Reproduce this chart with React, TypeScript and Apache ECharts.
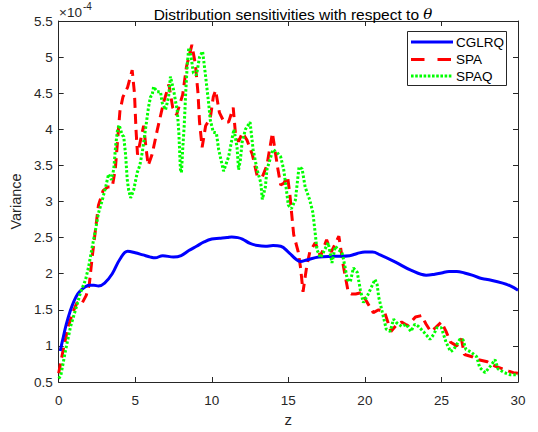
import React, { useEffect, useRef } from 'react';
import * as echarts from 'echarts';

const xTicks = [0, 5, 10, 15, 20, 25, 30];
const yTicks = [0.5, 1, 1.5, 2, 2.5, 3, 3.5, 4, 4.5, 5, 5.5];
const seriesNames = ['CGLRQ', 'SPA', 'SPAQ'];

// values in units of 1e-4
const cglrq: number[][] = [
  [0.1, 0.93], [0.3, 1.12], [0.5, 1.3], [0.75, 1.48], [1, 1.62], [1.25, 1.72], [1.5, 1.78], [1.75, 1.82],
  [2, 1.84], [2.3, 1.84], [2.6, 1.83], [3, 1.87], [3.5, 2.0], [4, 2.2], [4.5, 2.31], [5, 2.29],
  [5.5, 2.26], [6, 2.23], [6.3, 2.22], [6.8, 2.25], [7.5, 2.23], [8, 2.25], [8.5, 2.32], [9, 2.38],
  [9.5, 2.44], [10, 2.48], [10.5, 2.49], [11, 2.5], [11.3, 2.51], [11.7, 2.5], [12, 2.48], [12.5, 2.42],
  [13, 2.39], [13.5, 2.38], [14, 2.39], [14.5, 2.38], [15, 2.3], [15.5, 2.2], [15.8, 2.17], [16.2, 2.19],
  [17, 2.23], [18, 2.24], [19, 2.25], [19.5, 2.28], [20, 2.3], [20.5, 2.3], [21, 2.26], [22, 2.16],
  [23, 2.05], [24, 1.98], [24.5, 1.99], [25, 2.01], [25.5, 2.03], [26, 2.03], [26.5, 2.01], [27, 1.98],
  [27.5, 1.94], [28, 1.92], [29, 1.87], [29.5, 1.83], [30, 1.77],
];

const spa: number[][] = [
  [0, 0.62], [0.3, 0.95], [0.6, 1.25], [0.9, 1.45], [1.2, 1.6], [1.5, 1.58], [1.8, 1.7], [2.0, 1.85],
  [2.2, 2.25], [2.4, 2.6], [2.6, 2.95], [2.9, 3.15], [3.2, 3.2], [3.5, 3.2], [3.7, 3.45], [3.85, 3.85],
  [4.0, 4.25], [4.2, 4.45], [4.5, 4.58], [4.8, 4.82], [4.95, 4.5], [5.05, 4.0], [5.15, 3.65], [5.35, 3.85],
  [5.55, 4.05], [5.7, 3.75], [5.85, 3.5], [6.1, 3.65], [6.45, 4.0], [6.85, 4.37], [7.2, 4.62], [7.45, 4.3],
  [7.7, 4.2], [8.1, 4.48], [8.35, 4.87], [8.7, 5.17], [8.93, 4.9], [9.1, 4.5], [9.2, 4.1], [9.37, 3.75],
  [9.6, 4.05], [9.9, 4.15], [10.1, 4.45], [10.25, 4.54], [10.5, 4.23], [10.8, 4.1], [11.1, 4.1], [11.4, 4.3],
  [11.55, 3.93], [11.75, 3.83], [12.0, 3.95], [12.3, 3.85], [12.65, 3.65], [12.96, 3.36], [13.3, 3.34], [13.6, 3.5],
  [13.8, 3.75], [13.96, 3.95], [14.3, 3.47], [14.5, 3.23], [14.7, 3.25], [14.95, 3.35], [15.1, 3.1], [15.2, 2.87],
  [15.35, 2.54], [15.65, 2.3], [15.8, 2.08], [15.96, 1.75], [16.2, 2.1], [16.4, 2.3], [16.76, 2.43], [17.1, 2.24],
  [17.5, 2.47], [17.8, 2.3], [18.3, 2.52], [18.6, 2.1], [18.9, 1.76], [19.1, 1.72], [19.4, 1.72], [19.8, 1.74],
  [20.1, 1.62], [20.55, 1.46], [20.9, 1.5], [21.3, 1.46], [21.7, 1.2], [22.1, 1.3], [22.4, 1.33], [22.8, 1.28],
  [23.3, 1.4], [23.7, 1.42], [24.0, 1.3], [24.3, 1.2], [24.6, 1.25], [25.0, 1.33], [25.3, 1.2], [25.6, 1.05],
  [26.0, 1.0], [26.3, 1.1], [26.5, 0.88], [27.0, 0.85], [27.4, 0.81], [28.0, 0.78], [28.5, 0.72], [29.0, 0.68],
  [29.4, 0.65], [29.7, 0.63], [30.0, 0.62],
];

const spaq: number[][] = [
  [0, 0.55], [0.13, 0.58], [0.46, 0.95], [0.78, 1.27], [1.1, 1.5], [1.43, 1.74], [1.76, 1.92], [1.96, 2.1],
  [2.2, 2.38], [2.4, 2.6], [2.6, 2.84], [2.85, 3.02], [3.07, 3.2], [3.26, 3.38], [3.45, 3.3], [3.6, 3.45],
  [3.72, 3.77], [3.85, 4.0], [3.95, 4.06], [4.15, 3.92], [4.25, 3.9], [4.37, 3.65], [4.48, 3.3], [4.57, 3.16],
  [4.7, 3.05], [4.9, 3.16], [5.13, 3.4], [5.3, 3.5], [5.46, 3.68], [5.67, 4.0], [5.87, 4.31], [6.0, 4.45],
  [6.1, 4.47], [6.2, 4.59], [6.43, 4.52], [6.65, 4.52], [6.76, 4.37], [6.98, 4.27], [7.18, 4.45], [7.3, 4.73],
  [7.5, 4.55], [7.75, 4.25], [7.85, 3.95], [7.95, 3.45], [8.02, 3.4], [8.1, 3.72], [8.2, 4.05], [8.3, 4.52],
  [8.4, 4.9], [8.5, 5.13], [8.65, 5.0], [8.8, 4.78], [9.0, 4.75], [9.2, 5.0], [9.4, 5.08], [9.6, 4.73],
  [9.8, 4.35], [9.9, 4.13], [10.1, 3.96], [10.3, 3.95], [10.45, 3.72], [10.77, 3.42], [11.1, 3.62], [11.35, 3.9],
  [11.45, 4.0], [11.65, 3.75], [11.75, 3.44], [11.87, 3.58], [11.98, 3.82], [12.2, 4.0], [12.5, 4.1], [12.7, 3.72],
  [12.96, 3.44], [13.2, 3.26], [13.3, 3.03], [13.5, 3.2], [13.6, 3.44], [13.8, 3.58], [14.0, 3.72], [14.26, 3.68],
  [14.5, 3.62], [14.7, 3.44], [14.85, 3.2], [15.0, 2.95], [15.2, 2.9], [15.46, 3.02], [15.7, 3.48], [15.9, 3.45],
  [16.1, 3.2], [16.4, 3.02], [16.6, 2.85], [16.75, 2.57], [16.87, 2.33], [17.1, 2.22], [17.3, 2.3], [17.6, 2.43],
  [17.85, 2.15], [18.07, 2.38], [18.27, 2.33], [18.5, 2.3], [18.7, 2.1], [18.85, 1.92], [19.05, 1.89], [19.25, 2.08],
  [19.5, 2.02], [19.7, 1.78], [19.9, 1.6], [20.2, 1.71], [20.66, 1.92], [20.8, 1.85], [20.9, 1.68], [21.1, 1.5],
  [21.4, 1.23], [21.65, 1.2], [21.87, 1.37], [22.07, 1.32], [22.4, 1.27], [22.7, 1.3], [23.0, 1.2], [23.26, 1.3],
  [23.5, 1.27], [23.9, 1.18], [24.25, 1.09], [24.5, 1.16], [24.7, 1.25], [25.0, 1.25], [25.3, 1.05], [25.6, 0.92],
  [25.8, 0.95], [26.2, 1.09], [26.4, 1.09], [26.6, 0.95], [26.9, 0.92], [27.3, 0.85], [27.5, 0.7], [27.85, 0.63],
  [28.2, 0.72], [28.5, 0.81], [28.7, 0.68], [29.1, 0.63], [29.5, 0.6], [30.0, 0.6],
];

const FONT = '"Liberation Sans", Arial, Helvetica, sans-serif';
const AXIS = '#262626';
const COLORS = ['#0000ff', '#ff0000', '#00ff00'];
const DASHES: (number[] | null)[] = [null, [10, 6], [2.5, 2]];
const LEGEND_DASHES: (number[] | null)[] = [null, [13.5, 13], [2.6, 1.6]];

export default function App() {
  const ref = useRef<HTMLDivElement>(null);
  useEffect(() => {
    if (!ref.current) return;
    const chart = echarts.init(ref.current, null, { renderer: 'svg' });
    const axisCommon = {
      axisLine: { show: true, onZero: false, lineStyle: { color: AXIS, width: 1 } },
      axisTick: { show: true, inside: true, length: 5, lineStyle: { color: AXIS } },
      splitLine: { show: false },
    };
    const legendRows = [42, 59.5, 76];
    const legendGraphic: any[] = [
      {
        type: 'rect', z: 100,
        shape: { x: 407.5, y: 31.5, width: 99, height: 54 },
        style: { fill: '#fff', stroke: AXIS, lineWidth: 1 },
      },
    ];
    seriesNames.forEach((n, i) => {
      legendGraphic.push({
        type: 'line', z: 101,
        shape: { x1: 411, y1: legendRows[i], x2: 453, y2: legendRows[i] },
        style: { stroke: COLORS[i], lineWidth: 3, lineDash: LEGEND_DASHES[i] || undefined },
      });
      legendGraphic.push({
        type: 'text', z: 101, x: 456, y: legendRows[i],
        style: { text: n, fontFamily: FONT, fontSize: 13.5, fill: '#000', verticalAlign: 'middle', align: 'left' },
      });
    });
    chart.setOption({
      animation: false,
      backgroundColor: '#ffffff',
      title: {
        text: '{a|Distribution sensitivities with respect to }{t|θ}',
        left: 288,
        top: 1,
        textAlign: 'center',
        textStyle: {
          fontFamily: FONT,
          fontSize: 15.5,
          fontWeight: 'normal',
          color: '#000',
          rich: {
            a: { fontFamily: FONT, fontSize: 15.5, color: '#000' },
            t: { fontFamily: '"DejaVu Serif", "Liberation Serif", serif', fontStyle: 'italic', fontSize: 15, color: '#000' },
          },
        },
      },
      grid: { left: 58, top: 21, right: 20, bottom: 49.5, containLabel: false },
      xAxis: [
        {
          type: 'value', min: 0, max: 30, interval: 5, position: 'bottom',
          name: 'z', nameLocation: 'middle', nameGap: 30,
          nameTextStyle: { fontFamily: FONT, fontSize: 15, color: AXIS },
          axisLabel: { fontFamily: FONT, fontSize: 13.5, color: AXIS, margin: 11 },
          ...axisCommon,
        },
        {
          type: 'value', min: 0, max: 30, interval: 5, position: 'top',
          axisLabel: { show: false },
          ...axisCommon,
        },
      ],
      yAxis: [
        {
          type: 'value', min: 0.5, max: 5.5, interval: 0.5, position: 'left',
          name: 'Variance', nameLocation: 'middle', nameGap: 30,
          nameTextStyle: { fontFamily: FONT, fontSize: 14.5, color: AXIS },
          axisLabel: { fontFamily: FONT, fontSize: 13.5, color: AXIS, margin: 6 },
          ...axisCommon,
        },
        {
          type: 'value', min: 0.5, max: 5.5, interval: 0.5, position: 'right',
          axisLabel: { show: false },
          ...axisCommon,
        },
      ],
      graphic: [
        { type: 'text', left: 59, top: 5, style: { text: '×10', fontFamily: FONT, fontSize: 13.5, fill: AXIS } },
        { type: 'text', left: 83, top: 1, style: { text: '-4', fontFamily: FONT, fontSize: 10, fill: AXIS } },
        ...legendGraphic,
      ],
      series: seriesNames.map((n, i) => ({
        name: n,
        type: 'line',
        data: [cglrq, spa, spaq][i],
        symbol: 'none',
        smooth: i === 0 ? 0.4 : false,
        lineStyle: { color: COLORS[i], width: 3, type: DASHES[i] || 'solid' },
        itemStyle: { color: COLORS[i] },
        z: [3, 2, 4][i],
      })),
    });
    return () => chart.dispose();
  }, []);
  return <div ref={ref} style={{ position: 'fixed', left: 0, top: 0, width: 538, height: 432 }} />;
}
